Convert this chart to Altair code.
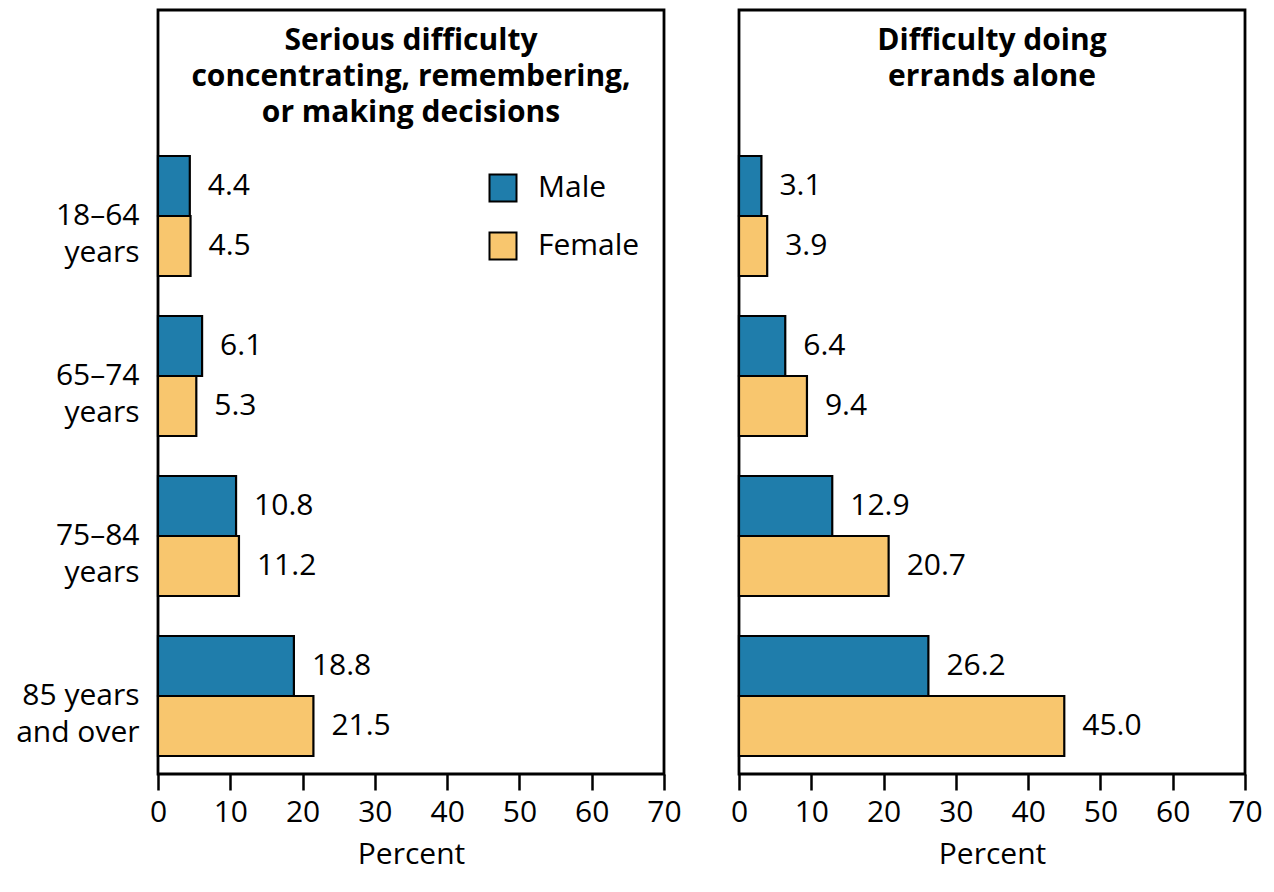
import altair as alt
import pandas as pd

age_groups = ["18–64|years", "65–74|years", "75–84|years", "85 years|and over"]
sexes = ["Male", "Female"]
cognitive_male = [4.4, 6.1, 10.8, 18.8]
cognitive_female = [4.5, 5.3, 11.2, 21.5]
errands_male = [3.1, 6.4, 12.9, 26.2]
errands_female = [3.9, 9.4, 20.7, 45.0]
x_ticks = [0, 10, 20, 30, 40, 50, 60, 70]
title_left = "Serious difficulty|concentrating, remembering,|or making decisions"
title_right = "Difficulty doing|errands alone"

BLUE = "#1f7dab"
ORANGE = "#f8c66e"
FONT = "Open Sans"
FS = 30
W = 506
H = 764


def make_df(male, female):
    rows = []
    for g, m, f in zip(age_groups, male, female):
        rows.append({"age": g, "sex": "Male", "value": m})
        rows.append({"age": g, "sex": "Female", "value": f})
    return pd.DataFrame(rows)


def panel(df, title, show_y, show_legend):
    yaxis = alt.Axis(title=None, labelExpr="split(datum.label, '|')", ticks=False,
                     domain=False, labelFontSize=FS, labelPadding=19, labelLineHeight=37,
                     labelColor="black", labelFont=FONT) if show_y else None
    base = alt.Chart(df).encode(
        y=alt.Y("age:N", sort=age_groups,
                scale=alt.Scale(domain=age_groups, range=[146, 746], paddingInner=0.25, paddingOuter=0),
                axis=yaxis),
        yOffset=alt.YOffset("sex:N", sort=sexes,
                            scale=alt.Scale(domain=sexes, paddingInner=0, paddingOuter=0)),
        x=alt.X("value:Q", scale=alt.Scale(domain=[0, 70], nice=False),
                axis=alt.Axis(values=x_ticks, title="Percent", titleFontSize=FS,
                              titleFontWeight="normal", titleFont=FONT, titleColor="black",
                              labelFontSize=FS, labelFont=FONT, labelColor="black",
                              tickSize=16, tickWidth=2.5, tickColor="black",
                              domain=False, grid=False, labelPadding=7, titlePadding=12,
                              labelFlush=False)),
    )
    legend = alt.Legend(orient="none", legendX=330, legendY=163, title=None,
                        symbolType="square", symbolSize=729, symbolStrokeColor="black",
                        symbolStrokeWidth=2, symbolOpacity=1, labelFontSize=FS, labelFont=FONT,
                        labelColor="black", rowPadding=22, labelOffset=20) if show_legend else None
    bars = base.mark_bar(stroke="black", strokeWidth=2.2, opacity=1).encode(
        color=alt.Color("sex:N", sort=sexes,
                        scale=alt.Scale(domain=sexes, range=[BLUE, ORANGE]), legend=legend))
    labels = base.mark_text(align="left", baseline="middle", dx=18, fontSize=FS, font=FONT,
                            color="black").encode(text=alt.Text("value:Q", format=".1f"))
    tdf = pd.DataFrame({"t": [title]})
    ttl = alt.Chart(tdf).mark_text(lineBreak="|", lineHeight=36, fontWeight="bold", fontSize=FS,
                                   font=FONT, baseline="top", align="center", color="black").encode(
        x=alt.value(W / 2), y=alt.value(16), text="t:N")
    return alt.layer(bars, labels, ttl).properties(width=W, height=H)


left = panel(make_df(cognitive_male, cognitive_female), title_left, True, True)
right = panel(make_df(errands_male, errands_female), title_right, False, False)

chart = alt.hconcat(left, right, spacing=46).resolve_scale(color="independent").configure_view(
    stroke="black", strokeWidth=2.8
).properties(padding={"left": 6, "top": 0, "right": 0, "bottom": 0}, background="white")

chart.save("out.html", embed_options={"renderer": "svg", "actions": False})
